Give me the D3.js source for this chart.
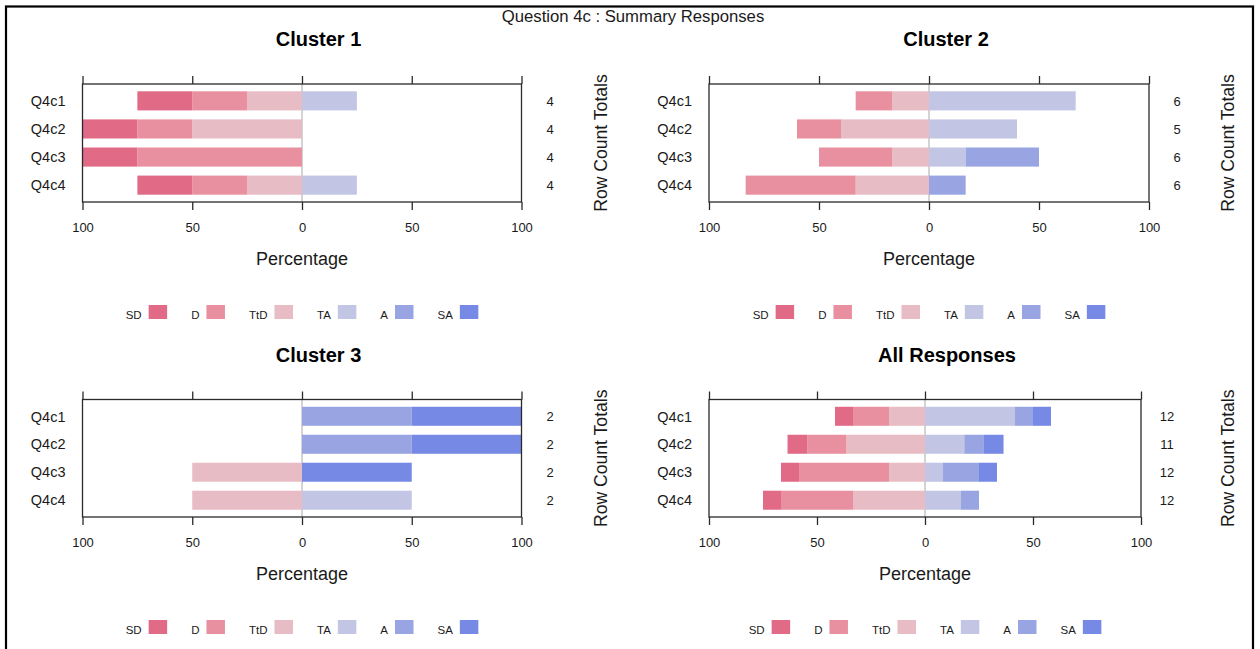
<!DOCTYPE html>
<html>
<head>
<meta charset="utf-8">
<script src="https://cdn.jsdelivr.net/npm/d3@7"></script>
<style>
  html, body { margin: 0; padding: 0; background: #fff; }
  svg { display: block; font-family: "Liberation Sans", Arial, sans-serif; }
</style>
</head>
<body>
<svg id="chart" width="1260" height="649"></svg>
<script>
// Likert responses for question 4c, counts per answer level
const questions = ["Q4c1", "Q4c2", "Q4c3", "Q4c4"];
const levels = ["SD", "D", "TtD", "TA", "A", "SA"];
const levelColors = ["#e16a86", "#e8909f", "#e7bcc4", "#c2c5e4", "#98a5e2", "#768ae5"];
const panelTitles = ["Cluster 1", "Cluster 2", "Cluster 3", "All Responses"];
const tickValues = [-100, -50, 0, 50, 100];

// counts per question: SD, D, TtD, TA, A, SA
const cluster1Counts = [[1, 1, 1, 1, 0, 0], [1, 1, 2, 0, 0, 0], [1, 3, 0, 0, 0, 0], [1, 1, 1, 1, 0, 0]];
const cluster2Counts = [[0, 1, 1, 4, 0, 0], [0, 1, 2, 2, 0, 0], [0, 2, 1, 1, 2, 0], [0, 3, 2, 0, 1, 0]];
const cluster3Counts = [[0, 0, 0, 0, 1, 1], [0, 0, 0, 0, 1, 1], [0, 0, 1, 0, 0, 1], [0, 0, 1, 1, 0, 0]];
const allCounts      = [[1, 2, 2, 5, 1, 1], [1, 2, 4, 2, 1, 1], [1, 5, 2, 1, 2, 1], [1, 4, 4, 2, 1, 0]];

const panelCounts = [cluster1Counts, cluster2Counts, cluster3Counts, allCounts];

// panel frames
const panels = [
  { left: 82.5, right: 521.5, top: 84,    bottom: 202, titleX: 318.5, totalsX: 550,  sideX: 600.5 },
  { left: 709,  right: 1149,  top: 84,    bottom: 202, titleX: 946,   totalsX: 1177, sideX: 1227.5 },
  { left: 82.5, right: 521.5, top: 399.5, bottom: 517, titleX: 318.5, totalsX: 550,  sideX: 600.5 },
  { left: 709,  right: 1141,  top: 399.5, bottom: 517, titleX: 947,   totalsX: 1167, sideX: 1227.5 }
];

const svg = d3.select("#chart");
const ink = "#1a1a1a";

// outer frame
svg.append("rect")
  .attr("x", 6).attr("y", 6.5).attr("width", 1247).attr("height", 700)
  .attr("fill", "none").attr("stroke", "#000").attr("stroke-width", 2.2);

svg.append("text")
  .attr("x", 633).attr("y", 22)
  .attr("text-anchor", "middle")
  .attr("font-size", 16.7).attr("fill", ink)
  .text("Question 4c : Summary Responses");

panels.forEach((p, pi) => {
  const counts = panelCounts[pi];
  const g = svg.append("g");

  const x = d3.scaleLinear().domain([-100, 100]).range([p.left, p.right]);
  const y = d3.scaleLinear().domain([0.4, 4.6]).range([p.top, p.bottom]);
  const barH = (y(1) - y(0)) * 0.68;

  // stacked segments: disagreement levels stack left from zero, agreement right
  const segments = [];
  counts.forEach((row, qi) => {
    const total = d3.sum(row);
    const pct = row.map(c => c / total * 100);
    let acc = 0;
    [2, 1, 0].forEach(li => {
      const v = pct[li];
      segments.push({ q: qi, level: li, x0: -acc - v, x1: -acc });
      acc += v;
    });
    acc = 0;
    [3, 4, 5].forEach(li => {
      const v = pct[li];
      segments.push({ q: qi, level: li, x0: acc, x1: acc + v });
      acc += v;
    });
  });

  // zero reference line
  g.append("line")
    .attr("x1", x(0)).attr("x2", x(0))
    .attr("y1", p.top).attr("y2", p.bottom)
    .attr("stroke", "#a8a8a8").attr("stroke-width", 1);

  g.selectAll("rect.seg")
    .data(segments.filter(s => s.x1 - s.x0 > 0))
    .join("rect")
    .attr("class", "seg")
    .attr("x", d => x(d.x0))
    .attr("width", d => x(d.x1) - x(d.x0))
    .attr("y", d => y(d.q + 1) - barH / 2)
    .attr("height", barH)
    .attr("fill", d => levelColors[d.level]);

  // plot box
  g.append("rect")
    .attr("x", p.left).attr("y", p.top)
    .attr("width", p.right - p.left).attr("height", p.bottom - p.top)
    .attr("fill", "none").attr("stroke", "#2a2a2a").attr("stroke-width", 1.3);

  // bottom axis with absolute percentages
  const axB = g.append("g")
    .attr("transform", `translate(0,${p.bottom})`)
    .call(d3.axisBottom(x).tickValues(tickValues).tickFormat(d => Math.abs(d)).tickSize(8).tickPadding(12.5));
  axB.select(".domain").remove();
  axB.selectAll("line").attr("stroke", "#2a2a2a").attr("stroke-width", 1.3);
  axB.selectAll("text").attr("font-size", 13).attr("fill", ink)
    .attr("font-family", "Liberation Sans, Arial, sans-serif");

  // top ticks without labels
  const axT = g.append("g")
    .attr("transform", `translate(0,${p.top})`)
    .call(d3.axisTop(x).tickValues(tickValues).tickFormat("").tickSize(8));
  axT.select(".domain").remove();
  axT.selectAll("line").attr("stroke", "#2a2a2a").attr("stroke-width", 1.3);

  // question labels
  g.selectAll("text.q")
    .data(questions)
    .join("text")
    .attr("class", "q")
    .attr("x", p.left - 17)
    .attr("y", (d, i) => y(i + 1))
    .attr("dy", "0.36em")
    .attr("text-anchor", "end")
    .attr("font-size", 14.5).attr("fill", ink)
    .text(d => d);

  // row count totals
  g.selectAll("text.tot")
    .data(counts.map(r => d3.sum(r)))
    .join("text")
    .attr("class", "tot")
    .attr("x", p.totalsX)
    .attr("y", (d, i) => y(i + 1))
    .attr("dy", "0.36em")
    .attr("text-anchor", "middle")
    .attr("font-size", 13).attr("fill", ink)
    .text(d => d);

  g.append("text")
    .attr("transform", `translate(${p.sideX},${(p.top + p.bottom) / 2}) rotate(-90)`)
    .attr("dy", "0.36em")
    .attr("text-anchor", "middle")
    .attr("font-size", 17.6).attr("fill", ink)
    .text("Row Count Totals");

  // panel title
  g.append("text")
    .attr("x", p.titleX).attr("y", p.top - 38)
    .attr("text-anchor", "middle")
    .attr("font-size", 20).attr("font-weight", "bold").attr("fill", "#000")
    .text(panelTitles[pi]);

  // axis title
  g.append("text")
    .attr("x", x(0)).attr("y", p.bottom + 62.5)
    .attr("text-anchor", "middle")
    .attr("font-size", 18).attr("fill", ink)
    .text("Percentage");

  // legend: label then swatch per level, centred under the box
  const leg = g.append("g");
  const legY = p.bottom + 103;
  const swW = 18.5, swH = 14, gapIn = 7, gapOut = 24;
  let cx = 0;
  const items = levels.map((lv, li) => {
    const t = leg.append("text")
      .attr("font-size", 11.5).attr("fill", ink)
      .attr("y", legY + swH)
      .text(lv);
    const w = t.node().getComputedTextLength();
    const item = { t, li, tx: cx, rx: cx + w + gapIn };
    cx += w + gapIn + swW + gapOut;
    return item;
  });
  const legW = cx - gapOut;
  const off = x(0) - legW / 2;
  items.forEach(it => {
    it.t.attr("x", off + it.tx);
    leg.append("rect")
      .attr("x", off + it.rx).attr("y", legY)
      .attr("width", swW).attr("height", swH)
      .attr("fill", levelColors[it.li]);
  });
});
</script>
</body>
</html>
